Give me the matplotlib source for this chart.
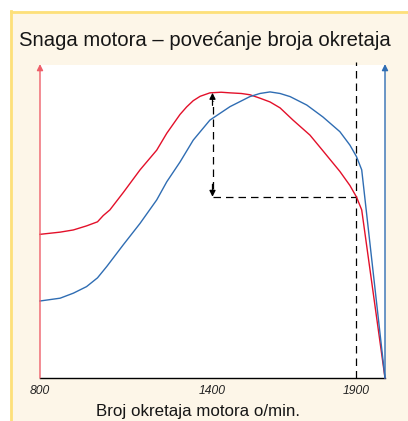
import matplotlib.pyplot as plt
from matplotlib.patches import Rectangle
from matplotlib.lines import Line2D

plt.rcParams['font.family'] = ['Liberation Sans', 'DejaVu Sans']

# engine speed (o/min) and the two curves
rpm_red = [800, 870, 916, 962, 1000, 1020, 1043, 1090, 1148, 1206, 1241, 1287, 1310,
           1333, 1357, 1391, 1430, 1461, 1500, 1530, 1565, 1600, 1635, 1680, 1739,
           1784, 1843, 1878, 1901, 1919, 2000]
power_red = [45.9, 46.6, 47.3, 48.6, 49.9, 51.9, 53.7, 59.3, 66.5, 72.8, 78.2, 84.2, 86.6,
             88.6, 90.0, 91.1, 91.3, 91.1, 90.9, 90.5, 89.4, 88.2, 86.3, 82.4, 77.6,
             72.6, 66.0, 61.5, 57.8, 53.7, 0]
rpm_blue = [800, 870, 916, 962, 1000, 1032, 1090, 1148, 1206, 1241, 1287, 1333, 1391,
            1461, 1530, 1565, 1600, 1635, 1670, 1728, 1784, 1843, 1878, 1901, 1919, 2000]
power_blue = [24.6, 25.5, 27.1, 29.2, 32.0, 35.6, 42.6, 49.4, 56.9, 62.7, 69.0, 76.0, 82.4,
              86.7, 89.9, 90.9, 91.4, 90.9, 89.9, 87.2, 83.4, 78.7, 74.4, 70.7, 66.5, 0]

peak_rpm = 1400
peak_val = 91.1
max_rpm = 1900
level_at_max = 57.9

xticks = [800, 1400, 1900]
xtick_labels = ['800', '1400', '1900']

RED = '#e3102a'
RED_AXIS = '#ee5f69'
BLUE = '#2f6db3'
CREAM = '#fdf6e8'
YELLOW = '#fde07a'

W, H = 408, 421
fig = plt.figure(figsize=(W / 100, H / 100), dpi=100)
fig.patch.set_facecolor('white')

# framed panel
fig.add_artist(Rectangle((10 / W, 0), 1 - 10 / W, 1 - 11 / H, transform=fig.transFigure,
                         facecolor=CREAM, edgecolor='none', zorder=0))
fig.add_artist(Line2D([11 / W, 1], [1 - 12 / H, 1 - 12 / H], transform=fig.transFigure,
                      color=YELLOW, lw=2.0, zorder=1))
fig.add_artist(Line2D([11 / W, 11 / W], [0, 1 - 11 / H], transform=fig.transFigure,
                      color=YELLOW, lw=2.0, zorder=1))

fig.text(19 / W, 1 - 46 / H, 'Snaga motora – povećanje broja okretaja',
         fontsize=14.6, color='#161616', va='baseline', ha='left')

ax = fig.add_axes([40 / W, 1 - 378 / H, 345 / W, 313 / H])
ax.set_facecolor('white')
ax.set_xlim(800, 2000)
ax.set_ylim(0, 100)
for side in ['left', 'right', 'top']:
    ax.spines[side].set_visible(False)
ax.spines['bottom'].set_color('black')
ax.spines['bottom'].set_linewidth(1.0)
ax.set_yticks([])
ax.set_xticks(xticks)
ax.set_xticklabels(xtick_labels, fontstyle='italic', fontsize=8.7, color='#222222')
ax.tick_params(axis='x', length=0, pad=5)

ax.plot(rpm_red, power_red, color=RED, lw=1.0, clip_on=False, zorder=3)
ax.plot(rpm_blue, power_blue, color=BLUE, lw=1.0, clip_on=False, zorder=3)

# vertical axes with arrows
ax.annotate('', xy=(800, 100.3), xytext=(800, 0), annotation_clip=False,
            arrowprops=dict(arrowstyle='-|>', color=RED_AXIS, lw=1.0,
                            mutation_scale=9, shrinkA=0, shrinkB=0))
ax.annotate('', xy=(2000, 100.3), xytext=(2000, 0), annotation_clip=False,
            arrowprops=dict(arrowstyle='-|>', color=BLUE, lw=1.0,
                            mutation_scale=9, shrinkA=0, shrinkB=0))

# dashed guides
dash = (0, (6, 4))
ax.plot([max_rpm, max_rpm], [0, 100.8], color='black', lw=0.9, linestyle=dash,
        clip_on=False, zorder=2)
ax.plot([peak_rpm, max_rpm], [level_at_max, level_at_max], color='black', lw=0.9,
        linestyle=dash, zorder=2)
ax.plot([peak_rpm, peak_rpm], [level_at_max + 2.5, peak_val - 2.5], color='black',
        lw=0.9, linestyle=(0, (6, 4)), zorder=2)
for tip, tail in [(peak_val, peak_val - 4), (level_at_max, level_at_max + 4)]:
    ax.annotate('', xy=(peak_rpm, tip), xytext=(peak_rpm, tail),
                arrowprops=dict(arrowstyle='-|>', color='black', lw=0.9,
                                mutation_scale=9, shrinkA=0, shrinkB=0))

fig.text(197.5 / W, 1 - 416 / H, 'Broj okretaja motora o/min.', fontsize=12.2,
         color='#161616', ha='center', va='baseline')

fig.savefig('out.png', dpi=100, facecolor=fig.get_facecolor())
